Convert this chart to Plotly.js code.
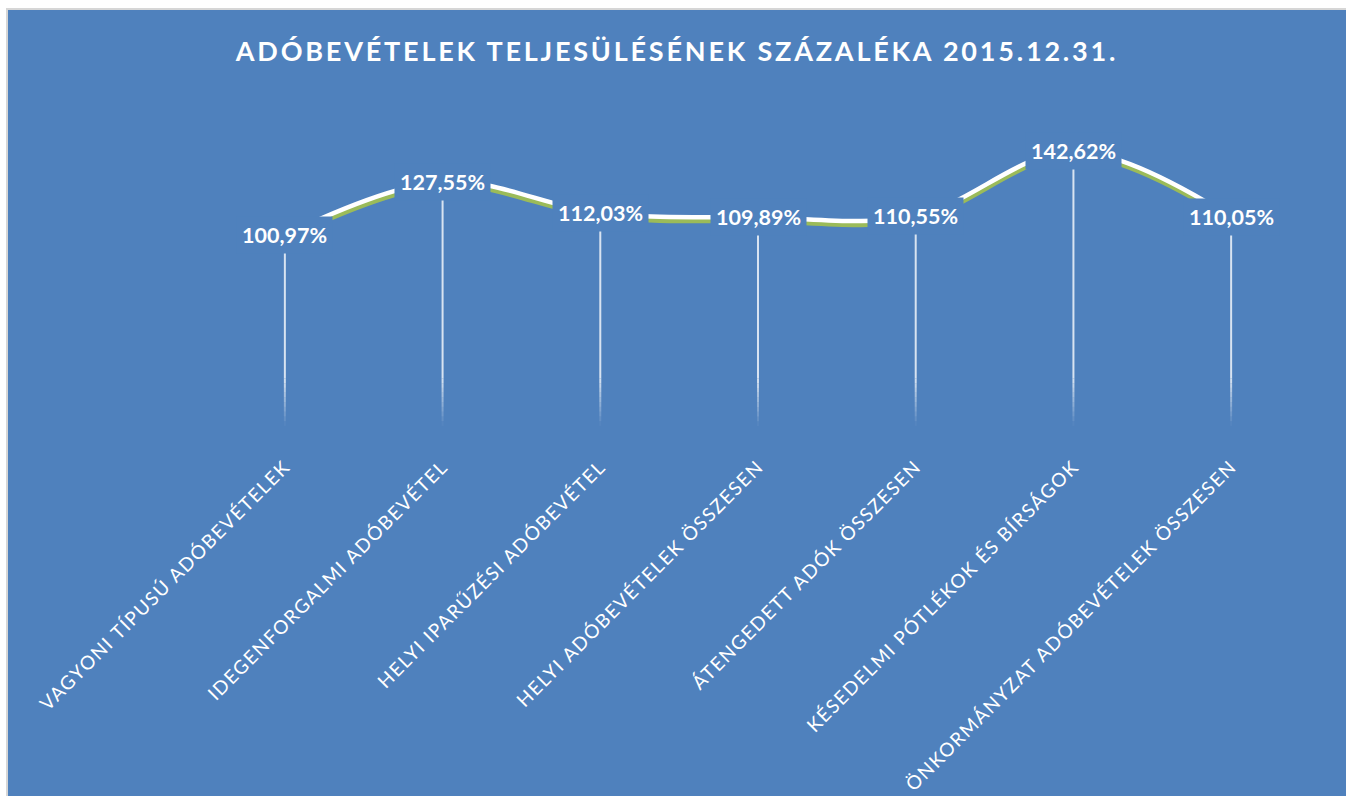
<!DOCTYPE html>
<html>
<head>
<meta charset="utf-8">
<script src="https://cdn.plot.ly/plotly-3.0.1.min.js"></script>
<style>
  html, body { margin: 0; padding: 0; background: #ffffff; width: 1346px; height: 796px; overflow: hidden; }
  #frame { position: absolute; left: 6px; top: 8px; width: 1340px; height: 788px; background: #D6D6D6; }
  #chart { position: absolute; left: 8px; top: 10px; width: 1338px; height: 786px; }
  #chart .gtitle { letter-spacing: 2.8px !important; }
  #chart .xtick text { letter-spacing: 1.5px !important; }
</style>
</head>
<body>
<div id="frame"></div>
<div id="chart"></div>
<script>
const categories = [
  "VAGYONI TÍPUSÚ ADÓBEVÉTELEK",
  "IDEGENFORGALMI ADÓBEVÉTEL",
  "HELYI IPARŰZÉSI ADÓBEVÉTEL",
  "HELYI ADÓBEVÉTELEK ÖSSZESEN",
  "ÁTENGEDETT ADÓK ÖSSZESEN",
  "KÉSEDELMI PÓTLÉKOK ÉS BÍRSÁGOK",
  "ÖNKORMÁNYZAT ADÓBEVÉTELEK ÖSSZESEN"
];
const values = [100.97, 127.55, 112.03, 109.89, 110.55, 142.62, 110.05];
const valueLabels = ["100,97%", "127,55%", "112,03%", "109,89%", "110,55%", "142,62%", "110,05%"];

const BLUE = "#4F81BD";
const GREEN = "#9BBB59";
const Y_MAX = 168;
const SHADOW = 1.8;   // shadow offset in axis units (~3.5px)

const traces = [];

// green shadow of the smoothed line (on the shifted axis)
traces.push({
  type: "scatter", mode: "lines",
  x: categories, y: values,
  xaxis: "x", yaxis: "y",
  line: { color: GREEN, width: 5, shape: "spline", smoothing: 1 },
  hoverinfo: "skip"
});

// drop lines (solid part)
const fadeTop = 30, fadeBottom = 6.5, fadeSteps = 10;
{
  const xs = [], ys = [];
  categories.forEach((c, i) => { xs.push(c, c, null); ys.push(values[i], fadeTop, null); });
  traces.push({
    type: "scatter", mode: "lines", x: xs, y: ys, xaxis: "x", yaxis: "y2",
    line: { color: "rgba(255,255,255,0.78)", width: 2 }, hoverinfo: "skip"
  });
}
// drop lines (fading part)
for (let k = 0; k < fadeSteps; k++) {
  const y0 = fadeTop - (fadeTop - fadeBottom) * k / fadeSteps;
  const y1 = fadeTop - (fadeTop - fadeBottom) * (k + 1) / fadeSteps;
  const xs = [], ys = [];
  categories.forEach((c) => { xs.push(c, c, null); ys.push(y0, y1, null); });
  const a = 0.78 * (1 - (k + 0.5) / fadeSteps);
  traces.push({
    type: "scatter", mode: "lines", x: xs, y: ys, xaxis: "x", yaxis: "y2",
    line: { color: "rgba(255,255,255," + a.toFixed(3) + ")", width: 2 }, hoverinfo: "skip"
  });
}

// white smoothed line
traces.push({
  type: "scatter", mode: "lines",
  x: categories, y: values,
  xaxis: "x", yaxis: "y2",
  line: { color: "#FFFFFF", width: 4.5, shape: "spline", smoothing: 1 },
  hoverinfo: "skip"
});

const annotations = categories.map((c, i) => ({
  x: c, y: values[i], xref: "x", yref: "y2",
  text: valueLabels[i], showarrow: false,
  xanchor: "center", yanchor: "middle",
  bgcolor: BLUE, borderpad: 5,
  font: { family: "Lato, 'Open Sans', sans-serif", size: 21.5, color: "#FFFFFF", weight: "bold" }
}));

const layout = {
  width: 1338, height: 786,
  paper_bgcolor: BLUE, plot_bgcolor: BLUE,
  margin: { l: 198, r: 36, t: 90, b: 357, pad: 0 },
  showlegend: false,
  title: {
    text: "ADÓBEVÉTELEK TELJESÜLÉSÉNEK SZÁZALÉKA 2015.12.31.",
    font: { family: "Lato, 'Open Sans', sans-serif", size: 27, color: "#FFFFFF", weight: "bold" },
    x: 0.5, xanchor: "center", xref: "container",
    y: 1 - 42 / 786, yanchor: "middle", yref: "container"
  },
  xaxis: {
    type: "category", range: [-0.5, categories.length - 0.5],
    showgrid: false, zeroline: false, showline: false, ticks: "",
    tickangle: -45, ticklabelstandoff: 12,
    tickfont: { family: "Lato, 'Open Sans', sans-serif", size: 19, color: "#FFFFFF" },
    fixedrange: true
  },
  yaxis: {
    range: [0 + SHADOW, Y_MAX + SHADOW], visible: false, showgrid: false, zeroline: false, fixedrange: true
  },
  yaxis2: {
    range: [0, Y_MAX], overlaying: "y", visible: false, showgrid: false, zeroline: false, fixedrange: true
  },
  annotations: annotations
};

Plotly.newPlot("chart", traces, layout, { staticPlot: true, displayModeBar: false });
</script>
</body>
</html>
